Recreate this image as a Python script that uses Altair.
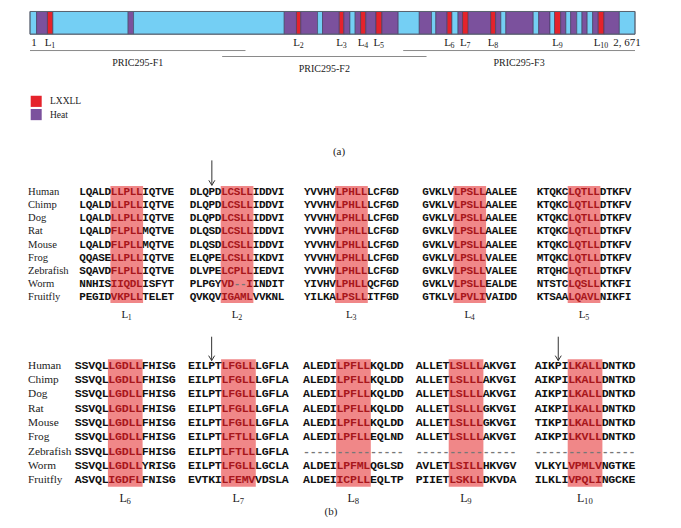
import altair as alt
import pandas as pd

# ---------------- data ----------------
SPECIES = ["Human", "Chimp", "Dog", "Rat", "Mouse", "Frog", "Zebrafish", "Worm", "Fruitfly"]

L1 = ["LQALDLLPLLIQTVE", "LQALDLLPLLIQTVE", "LQALDLLPLLIQTVE", "LQALDFLPLLMQTVE", "LQALDFLPLLMQTVE",
      "QQASELLPLLIQTVE", "SQAVDFLPLLIQTVE", "NNHISIIQDLISFYT", "PEGIDVKPLLTELET"]
L2 = ["DLQPDLCSLLIDDVI", "DLQPDLCSLLIDDVI", "DLQPDLCSLLIDDVI", "DLQSDLCSLLIDDVI", "DLQSDLCSLLIDDVI",
      "ELQPELCSLLIKDVI", "DLVPELCPLLIEDVI", "PLPGYVD--IINDIT", "QVKQVIGAMLVVKNL"]
L3 = ["YVVHVLPHLLLCFGD", "YVVHVLPHLLLCFGD", "YVVHVLPHLLLCFGD", "YVVHVLPHLLLCFGD", "YVVHVLPHLLLCFGD",
      "YVVHVLPHLLLCFGD", "YVVHVLPHLLLCFGD", "YIVHVLPHLLQCFGD", "YILKALPSLLITFGD"]
L4 = ["GVKLVLPSLLAALEE", "GVKLVLPSLLAALEE", "GVKLVLPSLLAALEE", "GVKLVLPSLLAALEE", "GVKLVLPSLLAALEE",
      "GVKLVLPSLLVALEE", "GVKLVLPSLLVALEE", "GVKLVLPSLLEALDE", "GTKLVLPVLIVAIDD"]
L5 = ["KTQKCLQTLLDTKFV", "KTQKCLQTLLDTKFV", "KTQKCLQTLLDTKFV", "KTQKCLQTLLDTKFV", "KTQKCLQTLLDTKFV",
      "MTQKCLQTLLDTKFV", "RTQHCLQTLLDTKFV", "NTSTCLQSLLKTKFI", "KTSAALQAVLNIKFI"]
L6 = ["SSVQLLGDLLFHISG", "SSVQLLGDLLFHISG", "SSVQLLGDLLFHISG", "SSVQLLGDLLFHISG", "SSVQLLGDLLFHISG",
      "SSVQLLGDLLFHISG", "SSVQLLGDLLFHISG", "SSVQLLGDLLYRISG", "ASVQLIGDFLFNISG"]
L7 = ["EILPTLFGLLLGFLA", "EILPTLFGLLLGFLA", "EILPTLFGLLLGFLA", "EILPTLFGLLLGFLA", "EILPTLFGLLLGFLA",
      "EILPTLFTLLLGFLA", "EILPTLFTLLLGFLA", "EILPTLFGLLLGCLA", "EVTKILFEMVVDSLA"]
L8 = ["ALEDILPFLLKQLDD", "ALEDILPFLLKQLDD", "ALEDILPFLLKQLDD", "ALEDILPFLLKQLDD", "ALEDILPFLLKQLDD",
      "ALEDILPFLLEQLND", "---------------", "ALDEILPFMLQGLSD", "ALDEIICPLLEQLTP"]
L9 = ["ALLETLSLLLAKVGI", "ALLETLSLLLAKVGI", "ALLETLSLLLAKVGI", "ALLETLSLLLGKVGI", "ALLETLSLLLGKVGI",
      "ALLETLSLLLAKVGI", "---------------", "AVLETLSILLHKVGV", "PIIETLSKLLDKVDA"]
L10 = ["AIKPILKALLDNTKD", "AIKPILKALLDNTKD", "AIKPILKALLDNTKD", "AIKPILKALLDNTKD", "TIKPILKALLDNTKD",
       "AIKPILKVLLDNTKD", "---------------", "VLKYLVPMLVNGTKE", "ILKLIVPQLINGCKE"]

BLOCK1_MOTIFS = ["1", "2", "3", "4", "5"]
BLOCK2_MOTIFS = ["6", "7", "8", "9", "10"]
ARROW_MOTIFS = ["2", "7", "10"]
ARROW_RESIDUE = 3          # index in the 15-residue window marked by the arrow

PROTEIN_LENGTH = 2671
SEG_BOUNDS = [1, 30, 78, 102, 434, 458, 1123, 1177, 1196, 1270, 1292, 1366, 1386, 1413, 1436,
              1460, 1483, 1528, 1554, 1626, 1719, 1773, 1792, 1842, 1863, 1890, 1910, 1935, 2034,
              2056, 2079, 2101, 2222, 2246, 2296, 2316, 2343, 2366, 2387, 2414, 2437, 2460, 2484,
              2509, 2534, 2602, 2671]
SEG_TYPES = ["other", "heat", "lxxll", "other", "heat", "other", "heat", "lxxll", "heat", "other",
             "heat", "lxxll", "heat", "other", "heat", "lxxll", "heat", "lxxll", "heat", "other",
             "heat", "other", "heat", "lxxll", "other", "heat", "lxxll", "heat", "lxxll", "heat",
             "other", "heat", "other", "heat", "other", "lxxll", "heat", "other", "heat", "other",
             "heat", "other", "heat", "lxxll", "heat", "other"]

FRAG_NAMES = ["PRIC295-F1", "PRIC295-F2", "PRIC295-F3"]
FRAG_START = [1, 849, 1648]
FRAG_END = [952, 1751, 2671]
FRAG_TIER = [0, 1, 0]

LEGEND_LABELS = ["LXXLL", "Heat"]
LEGEND_TYPES = ["lxxll", "heat"]

# ---------------- layout / style ----------------
COL = {"other": "#74cff4", "heat": "#7b519d", "lxxll": "#e5232b"}
BAR_X0, BAR_X1, BAR_Y0, BAR_Y1 = 30, 635, 11.5, 34.3
SERIF = "Liberation Serif"
MONO = "Liberation Mono"

BLOCKS = [
    dict(motifs=BLOCK1_MOTIFS, seqs=[L1, L2, L3, L4, L5], starts=[79.5, 189.8, 304.2, 422.5, 536.8],
         y0=192.7, dy=13.2, cw=6.3, fs=11, sp_fs=10.6, lab_fs=11, lab_y=316, arrow_top=161, arrow_tip=186),
    dict(motifs=BLOCK2_MOTIFS, seqs=[L6, L7, L8, L9, L10], starts=[75, 188.2, 303.2, 415.8, 534.8],
         y0=367, dy=14.4, cw=6.7, fs=11.6, sp_fs=11.3, lab_fs=12, lab_y=500, arrow_top=338, arrow_tip=362),
]


def aa_px(a):
    return BAR_X0 + (a - 1) / (PROTEIN_LENGTH - 1) * (BAR_X1 - BAR_X0)


rects, rules, serif_c, serif_l, mono = [], [], [], [], []

# protein bar
for i, t in enumerate(SEG_TYPES):
    rects.append(dict(x=aa_px(SEG_BOUNDS[i]), x2=aa_px(SEG_BOUNDS[i + 1]), y=BAR_Y0, y2=BAR_Y1,
                      fill=COL[t], sw=0.6, stroke="#3c3c5a"))
rects.append(dict(x=BAR_X0, x2=BAR_X1, y=BAR_Y0, y2=BAR_Y1, fill="transparent", sw=1, stroke="#5a6470"))


def sub_label(num, cx, y, fs):
    lw = fs * 0.61
    sfs = fs * 0.72
    sw = sfs * 0.5 * len(num)
    left = cx - (lw + sw) / 2
    serif_c.append(dict(x=left + lw / 2, y=y, t="L", fs=fs, c="#222"))
    serif_l.append(dict(x=left + lw - 0.3, y=y + fs * 0.28, t=num, fs=sfs, c="#222"))


# labels under bar
serif_c.append(dict(x=aa_px(1) + 4, y=43, t="1", fs=11, c="#222"))
serif_c.append(dict(x=aa_px(PROTEIN_LENGTH) - 8, y=43, t="2, 671", fs=11, c="#222"))
k = 0
for i, t in enumerate(SEG_TYPES):
    if t == "lxxll":
        k += 1
        sub_label(str(k), (aa_px(SEG_BOUNDS[i]) + aa_px(SEG_BOUNDS[i + 1])) / 2, 43, 11)

# fragments
for n, s, e, tier in zip(FRAG_NAMES, FRAG_START, FRAG_END, FRAG_TIER):
    ly = 50.7 + 6 * tier
    rules.append(dict(x=aa_px(s), x2=aa_px(e), y=ly, y2=ly, c="#8a8a8a", w=1))
    serif_c.append(dict(x=(aa_px(s) + aa_px(e)) / 2, y=ly + 12.6, t=n, fs=10, c="#222"))

# legend
for i, (lab, t) in enumerate(zip(LEGEND_LABELS, LEGEND_TYPES)):
    yy = 101.7 + i * 13.3
    rects.append(dict(x=30.7, x2=41.7, y=yy - 5.6, y2=yy + 5.6, fill=COL[t], sw=0, stroke=COL[t]))
    serif_l.append(dict(x=50, y=yy, t=lab, fs=9.5, c="#222"))

serif_c.append(dict(x=339, y=153, t="(a)", fs=11, c="#222"))
serif_c.append(dict(x=331, y=514, t="(b)", fs=11, c="#222"))

# alignment blocks
for b in BLOCKS:
    nrow = len(SPECIES)
    for r, sp in enumerate(SPECIES):
        serif_l.append(dict(x=28, y=b["y0"] + r * b["dy"], t=sp, fs=b["sp_fs"], c="#222"))
    for m, seqs, x0 in zip(b["motifs"], b["seqs"], b["starts"]):
        cw = b["cw"]
        hx0, hx1 = x0 + 5 * cw - 0.6, x0 + 10 * cw + 0.6
        rects.append(dict(x=hx0, x2=hx1, y=b["y0"] - b["dy"] * 0.45,
                          y2=b["y0"] + (nrow - 1) * b["dy"] + b["dy"] * 0.45,
                          fill="#f08788", sw=0, stroke="#f08788"))
        for r, s in enumerate(seqs):
            yy = b["y0"] + r * b["dy"]
            for j, ch in enumerate(s):
                if ch == "-":
                    col = "#777777"
                elif 5 <= j < 10:
                    col = "#a8161b"
                else:
                    col = "#111111"
                mono.append(dict(x=x0 + (j + 0.5) * cw, y=yy, t=ch, fs=b["fs"], c=col))
        sub_label(m, (hx0 + hx1) / 2, b["lab_y"], b["lab_fs"])
        if m in ARROW_MOTIFS:
            ax = x0 + (ARROW_RESIDUE + 0.5) * cw
            top, tip = b["arrow_top"], b["arrow_tip"]
            rules.append(dict(x=ax, x2=ax, y=top, y2=tip, c="#333", w=1))
            rules.append(dict(x=ax - 3, x2=ax, y=tip - 5, y2=tip, c="#333", w=1))
            rules.append(dict(x=ax + 3, x2=ax, y=tip - 5, y2=tip, c="#333", w=1))

XS = alt.Scale(domain=[8, 673], nice=False, zero=False)
YS = alt.Scale(domain=[8, 520], nice=False, zero=False, reverse=True)


def X(f="x"):
    return alt.X(f"{f}:Q", scale=XS, axis=None)


def Y(f="y"):
    return alt.Y(f"{f}:Q", scale=YS, axis=None)


rect_layer = alt.Chart(pd.DataFrame(rects)).mark_rect().encode(
    x=X(), x2="x2:Q", y=Y(), y2="y2:Q",
    fill=alt.Fill("fill:N", scale=None),
    stroke=alt.Stroke("stroke:N", scale=None),
    strokeWidth=alt.StrokeWidth("sw:Q", scale=None),
)
rule_layer = alt.Chart(pd.DataFrame(rules)).mark_rule().encode(
    x=X(), x2="x2:Q", y=Y(), y2="y2:Q",
    color=alt.Color("c:N", scale=None),
    strokeWidth=alt.StrokeWidth("w:Q", scale=None),
)


def text_layer(rows, font, align, weight="normal"):
    return alt.Chart(pd.DataFrame(rows)).mark_text(
        font=font, align=align, baseline="middle", fontWeight=weight
    ).encode(
        x=X(), y=Y(), text="t:N",
        color=alt.Color("c:N", scale=None),
        size=alt.Size("fs:Q", scale=None),
    )


chart = alt.layer(
    rect_layer,
    rule_layer,
    text_layer(serif_c, SERIF, "center"),
    text_layer(serif_l, SERIF, "left"),
    text_layer(mono, MONO, "center", "bold"),
).properties(
    width=665, height=510, padding=0, autosize=alt.AutoSizeParams(type="none")
).configure_view(strokeWidth=0)

chart.save("out.html", embed_options={"renderer": "svg", "actions": False})
